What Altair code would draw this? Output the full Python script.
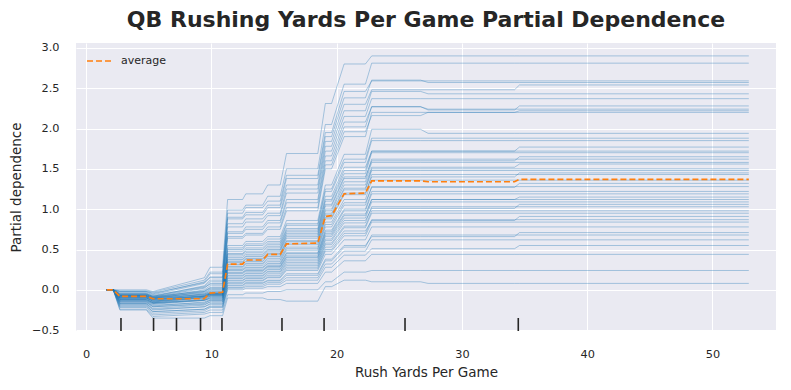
import altair as alt
import pandas as pd

# grid of feature values (Rush Yards Per Game) where the curves are evaluated
grid_x = [1.65, 2.17, 2.70, 4.81, 5.34, 9.44, 9.90, 10.90, 11.30, 12.50, 12.75, 14.10, 14.50,
          15.50, 16.00, 18.50, 19.10, 19.60, 20.60, 22.30, 22.80, 26.70, 27.30, 34.20, 34.60, 52.90]

# individual (ICE) curves: levels on the plateaus after the first one (which is 0 for all)
# columns: x~2.7-4.8, x=5.3, x=9.4, 9.9-10.9, 11.3-12.5, 12.75-14.1, 14.5-15.5,
#          16-18.5, 19.1-19.6, 20.6-22.3, 22.8-26.7, 27.3-34.2, 34.6-52.9
ice_levels = [
    [0.00, -0.02, 0.15, 0.28, 1.12, 1.19, 1.30, 1.69, 2.31, 2.80, 2.90, 2.90, 2.90],
    [-0.01, -0.03, 0.12, 0.22, 0.99, 1.05, 1.16, 1.50, 2.05, 2.55, 2.81, 2.81, 2.81],
    [-0.02, -0.05, 0.10, 0.20, 0.95, 1.02, 1.10, 1.42, 1.95, 2.46, 2.59, 2.59, 2.59],
    [-0.03, -0.06, 0.08, 0.16, 0.90, 0.96, 1.05, 1.38, 1.90, 2.38, 2.60, 2.57, 2.57],
    [-0.02, -0.04, 0.09, 0.15, 0.88, 0.93, 1.02, 1.30, 1.84, 2.30, 2.48, 2.48, 2.54],
    [-0.05, -0.08, 0.05, 0.12, 0.82, 0.88, 0.95, 1.25, 1.78, 2.22, 2.46, 2.43, 2.43],
    [-0.04, -0.07, 0.04, 0.10, 0.78, 0.84, 0.92, 1.20, 1.72, 2.15, 2.37, 2.37, 2.37],
    [-0.06, -0.09, 0.02, 0.08, 0.72, 0.78, 0.86, 1.12, 1.66, 2.08, 2.27, 2.23, 2.28],
    [-0.05, -0.08, 0.03, 0.07, 0.70, 0.75, 0.83, 1.08, 1.60, 2.02, 2.27, 2.24, 2.24],
    [-0.07, -0.10, 0.00, 0.05, 0.66, 0.70, 0.78, 1.02, 1.55, 1.96, 2.16, 2.20, 2.22],
    [-0.08, -0.11, -0.02, 0.03, 0.64, 0.68, 0.75, 0.98, 1.50, 1.90, 2.20, 2.20, 2.20],
    [-0.06, -0.09, -0.01, 0.02, 0.55, 0.60, 0.66, 0.86, 1.30, 1.68, 1.99, 1.94, 1.94],
    [-0.07, -0.10, -0.03, 0.00, 0.52, 0.57, 0.63, 0.82, 1.25, 1.62, 1.88, 1.88, 1.88],
    [-0.05, -0.08, -0.02, 0.01, 0.50, 0.55, 0.60, 0.80, 1.22, 1.58, 1.85, 1.85, 1.85],
    [-0.08, -0.12, -0.05, -0.02, 0.48, 0.52, 0.58, 0.76, 1.16, 1.52, 1.72, 1.72, 1.77],
    [-0.06, -0.09, -0.04, -0.01, 0.45, 0.50, 0.56, 0.74, 1.12, 1.48, 1.72, 1.72, 1.72],
    [-0.09, -0.13, -0.07, -0.04, 0.44, 0.48, 0.54, 0.72, 1.10, 1.44, 1.70, 1.70, 1.70],
    [-0.07, -0.10, -0.05, -0.03, 0.42, 0.46, 0.52, 0.70, 1.06, 1.40, 1.60, 1.60, 1.65],
    [-0.10, -0.14, -0.08, -0.05, 0.40, 0.44, 0.50, 0.68, 1.04, 1.38, 1.62, 1.62, 1.62],
    [-0.08, -0.11, -0.06, -0.04, 0.38, 0.42, 0.49, 0.66, 1.00, 1.34, 1.58, 1.58, 1.58],
    [-0.09, -0.12, -0.07, -0.05, 0.37, 0.41, 0.47, 0.64, 0.98, 1.30, 1.52, 1.52, 1.56],
    [-0.11, -0.15, -0.09, -0.06, 0.35, 0.39, 0.45, 0.61, 0.95, 1.26, 1.50, 1.50, 1.50],
    [-0.07, -0.10, -0.06, -0.04, 0.34, 0.38, 0.44, 0.60, 0.93, 1.24, 1.48, 1.48, 1.48],
    [-0.10, -0.13, -0.08, -0.06, 0.32, 0.36, 0.42, 0.58, 0.90, 1.20, 1.40, 1.40, 1.45],
    [-0.12, -0.16, -0.10, -0.07, 0.31, 0.35, 0.41, 0.56, 0.88, 1.18, 1.43, 1.43, 1.43],
    [-0.09, -0.12, -0.08, -0.05, 0.29, 0.33, 0.39, 0.53, 0.84, 1.12, 1.36, 1.36, 1.36],
    [-0.10, -0.14, -0.09, -0.06, 0.28, 0.32, 0.37, 0.51, 0.81, 1.08, 1.27, 1.27, 1.32],
    [-0.13, -0.17, -0.12, -0.08, 0.26, 0.30, 0.35, 0.49, 0.78, 1.05, 1.28, 1.28, 1.28],
    [-0.11, -0.15, -0.10, -0.07, 0.25, 0.28, 0.33, 0.46, 0.74, 1.00, 1.22, 1.22, 1.22],
    [-0.08, -0.11, -0.08, -0.05, 0.24, 0.27, 0.32, 0.45, 0.72, 0.98, 1.19, 1.19, 1.19],
    [-0.14, -0.18, -0.13, -0.10, 0.22, 0.25, 0.30, 0.43, 0.70, 0.94, 1.12, 1.12, 1.15],
    [-0.12, -0.16, -0.12, -0.09, 0.21, 0.24, 0.29, 0.41, 0.68, 0.92, 1.12, 1.12, 1.12],
    [-0.10, -0.14, -0.10, -0.08, 0.20, 0.23, 0.28, 0.40, 0.66, 0.89, 1.09, 1.09, 1.09],
    [-0.15, -0.20, -0.15, -0.12, 0.18, 0.21, 0.26, 0.38, 0.63, 0.86, 1.01, 1.01, 1.06],
    [-0.13, -0.17, -0.13, -0.10, 0.17, 0.20, 0.25, 0.36, 0.61, 0.83, 1.03, 1.03, 1.03],
    [-0.16, -0.21, -0.17, -0.13, 0.15, 0.18, 0.23, 0.34, 0.58, 0.79, 0.98, 0.98, 0.98],
    [-0.12, -0.16, -0.13, -0.11, 0.14, 0.17, 0.22, 0.32, 0.56, 0.77, 0.95, 0.95, 0.95],
    [-0.17, -0.23, -0.19, -0.15, 0.12, 0.15, 0.20, 0.30, 0.53, 0.73, 0.86, 0.86, 0.91],
    [-0.14, -0.19, -0.16, -0.13, 0.11, 0.14, 0.18, 0.28, 0.50, 0.70, 0.87, 0.87, 0.87],
    [-0.18, -0.25, -0.21, -0.17, 0.09, 0.12, 0.16, 0.26, 0.48, 0.67, 0.84, 0.84, 0.84],
    [-0.15, -0.21, -0.18, -0.15, 0.08, 0.11, 0.15, 0.24, 0.44, 0.62, 0.78, 0.78, 0.78],
    [-0.20, -0.27, -0.24, -0.20, 0.06, 0.09, 0.12, 0.20, 0.38, 0.55, 0.66, 0.66, 0.71],
    [-0.17, -0.24, -0.21, -0.18, 0.05, 0.08, 0.11, 0.18, 0.36, 0.53, 0.68, 0.68, 0.68],
    [-0.21, -0.29, -0.26, -0.22, 0.03, 0.06, 0.09, 0.15, 0.32, 0.48, 0.62, 0.62, 0.62],
    [-0.19, -0.27, -0.24, -0.21, 0.02, 0.04, 0.07, 0.12, 0.28, 0.43, 0.51, 0.51, 0.55],
    [-0.22, -0.31, -0.28, -0.25, 0.00, 0.02, 0.04, 0.08, 0.22, 0.36, 0.44, 0.44, 0.44],
    [-0.24, -0.33, -0.30, -0.28, -0.06, -0.04, -0.02, 0.00, 0.10, 0.22, 0.24, 0.24, 0.24],
    [-0.25, -0.35, -0.35, -0.32, -0.10, -0.10, -0.12, -0.14, 0.04, 0.12, 0.10, 0.08, 0.08],
]

# average (partial dependence) curve, one value per grid point
avg_y = [0.00, 0.00, -0.08, -0.08, -0.11, -0.11, -0.04, -0.03, 0.32, 0.32, 0.37, 0.37, 0.44,
         0.44, 0.57, 0.58, 0.91, 0.92, 1.19, 1.20, 1.35, 1.35, 1.34, 1.34, 1.37, 1.37]

# deciles of the feature (rug ticks)
deciles = [2.79, 5.39, 7.22, 9.14, 10.85, 15.64, 19.00, 25.46, 34.50]

x_ticks = [0, 10, 20, 30, 40, 50]
y_ticks = [-0.5, 0.0, 0.5, 1.0, 1.5, 2.0, 2.5, 3.0]

rows = []
for i, lv in enumerate(ice_levels):
    ys = [0.0, 0.0, lv[0], lv[0], lv[1], lv[2]]
    for v in lv[3:]:
        ys += [v, v]
    for j, (xv, yv) in enumerate(zip(grid_x, ys)):
        rows.append({"line": i, "order": j, "x": xv, "y": yv})
ice_df = pd.DataFrame(rows)
avg_df = pd.DataFrame({"x": grid_x, "y": avg_y, "order": list(range(len(grid_x))),
                       "series": ["average"] * len(grid_x)})
dec_df = pd.DataFrame({"x": deciles})

W, H = 700, 288
xs = alt.Scale(domain=[-0.8, 55.07], nice=False, zero=False)
ys_ = alt.Scale(domain=[-0.51, 3.06], nice=False, zero=False)

xax = alt.Axis(values=x_ticks, format="d", title="Rush Yards Per Game")
yax = alt.Axis(values=y_ticks, format=".1f", title="Partial dependence")

ice = alt.Chart(ice_df).mark_line(color="#1f77b4", strokeWidth=0.9, opacity=0.4).encode(
    x=alt.X("x:Q", scale=xs, axis=xax),
    y=alt.Y("y:Q", scale=ys_, axis=yax),
    detail="line:N",
    order="order:Q",
)

avg = alt.Chart(avg_df).mark_line(strokeWidth=1.7, strokeDash=[6, 3]).encode(
    x=alt.X("x:Q", scale=xs),
    y=alt.Y("y:Q", scale=ys_),
    order="order:Q",
    color=alt.Color("series:N", scale=alt.Scale(domain=["average"], range=["#ff7f0e"]),
                    legend=alt.Legend(title=None, orient="none", legendX=10, legendY=5,
                                      symbolType="stroke", symbolSize=576,
                                      symbolStrokeWidth=1.7, symbolDash=[6, 3],
                                      labelFontSize=11, labelColor="#262626",
                                      labelFont="DejaVu Sans", labelOffset=9)),
)

rug = alt.Chart(dec_df).mark_rule(color="#262626", strokeWidth=1.6).encode(
    x=alt.X("x:Q", scale=xs),
    y=alt.value(H - 13),
    y2=alt.value(H),
)

chart = alt.layer(ice, avg, rug).properties(
    width=W, height=H,
    title=alt.TitleParams("QB Rushing Yards Per Game Partial Dependence", fontSize=22,
                          font="DejaVu Sans", fontWeight="bold", color="#262626",
                          anchor="middle", offset=10),
    autosize=alt.AutoSizeParams(type="none"),
    padding={"left": 68, "top": 35, "right": 7, "bottom": 55},
).configure_view(fill="#EAEAF2", stroke=None).configure_axis(
    grid=True, gridColor="white", gridWidth=1, domain=False, ticks=False,
    labelFont="DejaVu Sans", labelFontSize=11.3, labelColor="#262626", labelPadding=17,
    titleFont="DejaVu Sans", titleFontSize=13.5, titleFontWeight="normal", titleColor="#262626",
).configure_axisY(titlePadding=8).configure_axisX(titlePadding=6)

chart.save("out.html", embed_options={"renderer": "svg", "actions": False})
